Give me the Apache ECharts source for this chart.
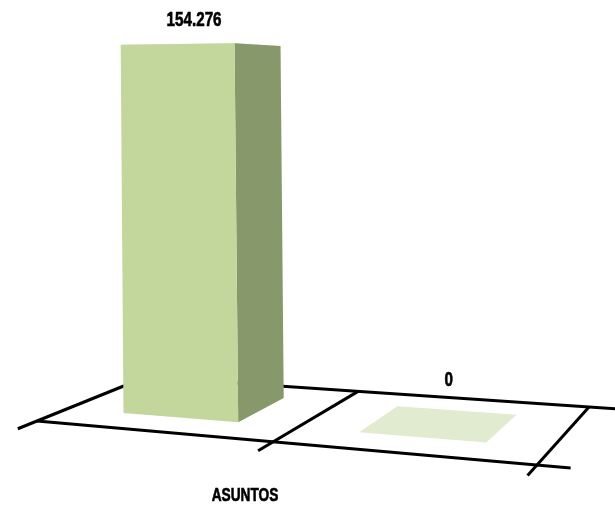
<!DOCTYPE html>
<html>
<head>
<meta charset="utf-8">
<script src="https://cdn.jsdelivr.net/npm/echarts@6/dist/echarts.min.js"></script>
<style>html,body{margin:0;padding:0;background:#fff}#c{width:615px;height:506px}</style>
</head>
<body>
<div id="c"></div>
<script>
// ---- data ----
const categories = ['1', '2'];
const values = [154276, 0];
const axisTitle = 'ASUNTOS';

// ---- styles ----
const FONT = "'Liberation Sans',Arial,sans-serif";
const NARROW = 0.76; // condensed look
const FRONT = '#C3D69B', SIDE = '#87986A', TOP = '#E1EBCF';

// ---- 3D frame (camera layout): floor quad and ceiling quad (at axis max) ----
const FLOOR = [[37, 421], [537, 465], [589, 407], [146, 377]]; // front-left, front-right, back-right, back-left
const CEIL = [[38.4, 44], [478.4, 38.5], [570.4, 43.95], [130.4, 49.45]];

function quadMap(q) {
  const [p0, p1, p2, p3] = q;
  const sx = p0[0] - p1[0] + p2[0] - p3[0], sy = p0[1] - p1[1] + p2[1] - p3[1];
  const dx1 = p1[0] - p2[0], dx2 = p3[0] - p2[0], dy1 = p1[1] - p2[1], dy2 = p3[1] - p2[1];
  const den = dx1 * dy2 - dx2 * dy1;
  const g = (sx * dy2 - dx2 * sy) / den, h = (dx1 * sy - sx * dy1) / den;
  const a = p1[0] - p0[0] + g * p1[0], b = p3[0] - p0[0] + h * p3[0], c = p0[0];
  const d = p1[1] - p0[1] + g * p1[1], e = p3[1] - p0[1] + h * p3[1], f = p0[1];
  return (u, v) => { const w = g * u + h * v + 1; return [(a * u + b * v + c) / w, (d * u + e * v + f) / w]; };
}
const floorMap = quadMap(FLOOR), ceilMap = quadMap(CEIL);
const warp = u => u + 0.07 * u * (1 - u);
const nCat = categories.length;
// X in category units, Z depth (0 front, 1 back), t height fraction of axis max
function P(X, Z, t) {
  const u = warp(X / nCat);
  const a = floorMap(u, Z), b = ceilMap(u, Z);
  return [a[0] + (b[0] - a[0]) * t, a[1] + (b[1] - a[1]) * t];
}
const fmt = v => String(v).replace(/\B(?=(\d{3})+(?!\d))/g, '.');

const chart = echarts.init(document.getElementById('c'), null, { renderer: 'canvas' });
chart.setOption({
  backgroundColor: '#fff',
  animation: false,
  grid: { left: 0, top: 0, width: 100, height: 100, show: false },
  xAxis: { type: 'category', data: categories, show: false },
  yAxis: { type: 'value', min: 0, max: 'dataMax', show: false },
  graphic: [{
    type: 'text', x: 245, y: 496, scaleX: NARROW, z: 10,
    style: { text: axisTitle, x: 0, y: 0, align: 'center', verticalAlign: 'middle', fill: '#000',
      stroke: '#000', lineWidth: 0.6, font: "bold 18px " + FONT }
  }],
  series: [
    {
      type: 'custom', z: 1, clip: false, silent: true,
      data: [[0, 0]],
      encode: { x: 0, y: 1 },
      renderItem: function () {
        const line = (a, b) => ({ type: 'line', shape: { x1: a[0], y1: a[1], x2: b[0], y2: b[1] },
          style: { stroke: '#000', lineWidth: 3 } });
        const ext = -0.15;
        return { type: 'group', children: [
          line(P(0, ext, 0), P(0, 1, 0)),
          line(P(nCat / 2, ext, 0), P(nCat / 2, 1, 0)),
          line(P(nCat, ext, 0), P(nCat, 1, 0)),
          line(P(0, 0, 0), P(nCat * 1.06, 0, 0)),
          line(P(0, 1, 0), P(nCat * 1.1, 1, 0))
        ] };
      }
    },
    {
      type: 'custom', z: 2, clip: false,
      data: values.map((v, i) => [i, v]),
      encode: { x: 0, y: 1 },
      renderItem: function (params, api) {
        const cs = params.coordSys;
        const idx = api.value(0), v = api.value(1);
        const base = api.coord([idx, 0]), top = api.coord([idx, v]);
        const Xc = (base[0] - cs.x) / cs.width * nCat;
        const t = (base[1] - top[1]) / cs.height;
        const hw = 0.25, Z0 = 0.26, Z1 = 0.76;
        const X0 = Xc - hw, X1 = Xc + hw;
        const poly = (pts, fill) => ({ type: 'polygon', shape: { points: pts }, style: { fill: fill } });
        const children = [poly([P(X0, Z0, t), P(X1, Z0, t), P(X1, Z1, t), P(X0, Z1, t)], TOP)];
        if (t > 0) {
          children.push(poly([P(X1, Z0, 0), P(X1, Z1, 0), P(X1, Z1, t), P(X1, Z0, t)], SIDE));
          children.push(poly([P(X0, Z0, 0), P(X1, Z0, 0), P(X1, Z0, t), P(X0, Z0, t)], FRONT));
        }
        // label placement shifts with height (perspective)
        const anchor = P(Xc, (Z0 + Z1) / 2, t);
        const dx = 9 - 16 * t, dy = -43 + 18 * t;
        children.push({ type: 'text', x: anchor[0] + dx, y: anchor[1] + dy, scaleX: NARROW,
          style: { text: fmt(v), x: 0, y: 0, align: 'center', verticalAlign: 'middle', fill: '#000',
            stroke: '#000', lineWidth: 0.6, font: 'bold 20px ' + FONT } });
        return { type: 'group', children: children };
      }
    }
  ]
});
</script>
</body>
</html>
